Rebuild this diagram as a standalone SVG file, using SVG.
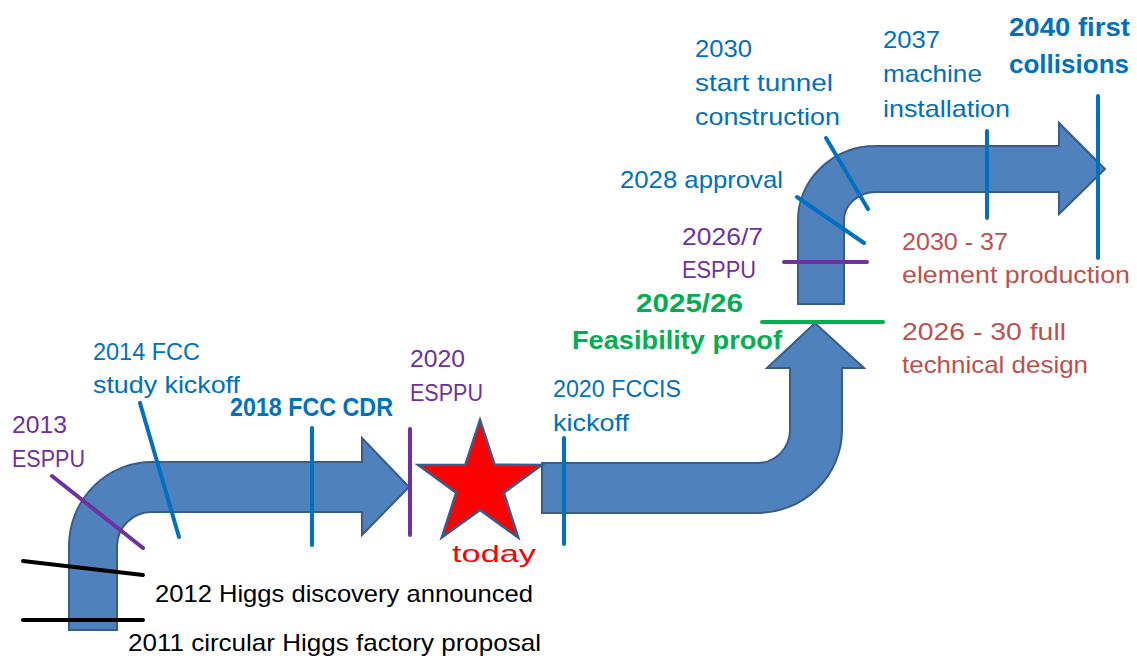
<svg xmlns="http://www.w3.org/2000/svg" width="1137" height="658" viewBox="0 0 1137 658">
<style>
text{font-family:"Liberation Sans",Arial,sans-serif;font-size:24px}
.b{font-weight:bold;font-size:25px}
.blue{fill:#0070C0}.purple{fill:#7030A0}.green{fill:#00B050}.brown{fill:#C0504D}.black{fill:#000}.red{fill:#FF0000}
.arrow{fill:#4F81BD;stroke:#385D8A;stroke-width:2;stroke-linejoin:miter}
.t{stroke-width:4;stroke-linecap:round;fill:none}
.tb{stroke:#0070C0}.tp{stroke:#7030A0}.tg{stroke:#00B050}.tk{stroke:#000}
</style>
<rect width="1137" height="658" fill="#fff"/>
<g id="arrow1"><path class="arrow" d="M69,630 L69,546 A83,84 0 0 1 152,462 L362,462 L362,438 L409,487 L362,535 L362,512 L152,512 A35,34 0 0 0 117,546 L117,630 Z"/></g>
<g id="arrow2"><path class="arrow" d="M542,463 L757,463 A33,33 0 0 0 790,430 L790,368 L767,368 L815,323 L864,368 L842,368 L842,430 A85,83 0 0 1 757,513 L542,513 Z"/></g>
<g id="arrow3"><path class="arrow" d="M798,304 L798,220 A78,74 0 0 1 876,146 L1059,146 L1059,123 L1105,169 L1059,214 L1059,192 L876,192 A32,28 0 0 0 844,220 L844,304 Z"/></g>
<g id="today">
<polygon points="480,420 494.7,464.8 541.8,464.9 503.8,492.7 518.2,537.6 480,510 441.8,537.6 456.2,492.7 418.2,464.9 465.3,464.8" fill="#FF0000" stroke="#385D8A" stroke-width="2.5" stroke-linejoin="miter"/>
<text class="red" x="452" y="562" font-size="34" textLength="84" lengthAdjust="spacingAndGlyphs">today</text>
</g>
<g id="connectors">
<line class="t tk" x1="23" y1="561" x2="143" y2="575"/>
<line class="t tk" x1="23" y1="620" x2="143" y2="620"/>
<line class="t tp" x1="52" y1="476" x2="143" y2="548"/>
<line class="t tb" x1="140" y1="403" x2="179" y2="537"/>
<line class="t tb" x1="312" y1="428" x2="312" y2="545"/>
<line class="t tp" x1="410" y1="429" x2="410" y2="535"/>
<line class="t tb" x1="564" y1="438" x2="564" y2="544"/>
<line class="t tg" x1="762" y1="322" x2="883" y2="322"/>
<line class="t tp" x1="784" y1="262" x2="867" y2="262"/>
<line class="t tb" x1="797" y1="197" x2="864" y2="243"/>
<line class="t tb" x1="826" y1="138" x2="868" y2="209"/>
<line class="t tb" x1="987" y1="131" x2="987" y2="218"/>
<line class="t tb" x1="1098" y1="96" x2="1098" y2="258"/>
</g>
<g id="m2011"><text class="black" x="128" y="651" textLength="413" lengthAdjust="spacingAndGlyphs">2011 circular Higgs factory proposal</text></g>
<g id="m2012"><text class="black" x="155" y="602" textLength="378" lengthAdjust="spacingAndGlyphs">2012 Higgs discovery announced</text></g>
<g id="m2013"><text class="purple" x="12" y="433" textLength="55" lengthAdjust="spacingAndGlyphs">2013</text><text class="purple" x="12" y="467" textLength="73" lengthAdjust="spacingAndGlyphs">ESPPU</text></g>
<g id="m2014"><text class="blue" x="93" y="360" textLength="107" lengthAdjust="spacingAndGlyphs">2014 FCC</text><text class="blue" x="93" y="393" textLength="147" lengthAdjust="spacingAndGlyphs">study kickoff</text></g>
<g id="m2018"><text class="blue b" x="230" y="416" textLength="163" lengthAdjust="spacingAndGlyphs">2018 FCC CDR</text></g>
<g id="m2020"><text class="purple" x="410" y="367" textLength="55" lengthAdjust="spacingAndGlyphs">2020</text><text class="purple" x="410" y="401" textLength="73" lengthAdjust="spacingAndGlyphs">ESPPU</text></g>
<g id="m2020b"><text class="blue" x="553" y="397" textLength="128" lengthAdjust="spacingAndGlyphs">2020 FCCIS</text><text class="blue" x="553" y="431" textLength="76" lengthAdjust="spacingAndGlyphs">kickoff</text></g>
<g id="m2025"><text class="green b" x="636" y="312" font-size="26" textLength="107" lengthAdjust="spacingAndGlyphs">2025/26</text><text class="green b" x="572" y="349" font-size="26" textLength="210" lengthAdjust="spacingAndGlyphs">Feasibility proof</text></g>
<g id="m2026"><text class="purple" x="682" y="245" textLength="81" lengthAdjust="spacingAndGlyphs">2026/7</text><text class="purple" x="682" y="278" textLength="74" lengthAdjust="spacingAndGlyphs">ESPPU</text></g>
<g id="m2028"><text class="blue" x="620" y="188" textLength="163" lengthAdjust="spacingAndGlyphs">2028 approval</text></g>
<g id="m2030"><text class="blue" x="695" y="57" textLength="57" lengthAdjust="spacingAndGlyphs">2030</text><text class="blue" x="695" y="91" textLength="138" lengthAdjust="spacingAndGlyphs">start tunnel</text><text class="blue" x="695" y="125" textLength="145" lengthAdjust="spacingAndGlyphs">construction</text></g>
<g id="m2037"><text class="blue" x="883" y="48" textLength="57" lengthAdjust="spacingAndGlyphs">2037</text><text class="blue" x="883" y="82" textLength="99" lengthAdjust="spacingAndGlyphs">machine</text><text class="blue" x="883" y="117" textLength="127" lengthAdjust="spacingAndGlyphs">installation</text></g>
<g id="m2040"><text class="blue b" x="1009" y="36" font-size="27" textLength="121" lengthAdjust="spacingAndGlyphs">2040 first</text><text class="blue b" x="1009" y="73" font-size="27" textLength="120" lengthAdjust="spacingAndGlyphs">collisions</text></g>
<g id="m2030p"><text class="brown" x="902" y="250" textLength="106" lengthAdjust="spacingAndGlyphs">2030 - 37</text><text class="brown" x="902" y="283" textLength="228" lengthAdjust="spacingAndGlyphs">element production</text></g>
<g id="m2026d"><text class="brown" x="902" y="340" textLength="164" lengthAdjust="spacingAndGlyphs">2026 - 30 full</text><text class="brown" x="902" y="373" textLength="186" lengthAdjust="spacingAndGlyphs">technical design</text></g>
</svg>
